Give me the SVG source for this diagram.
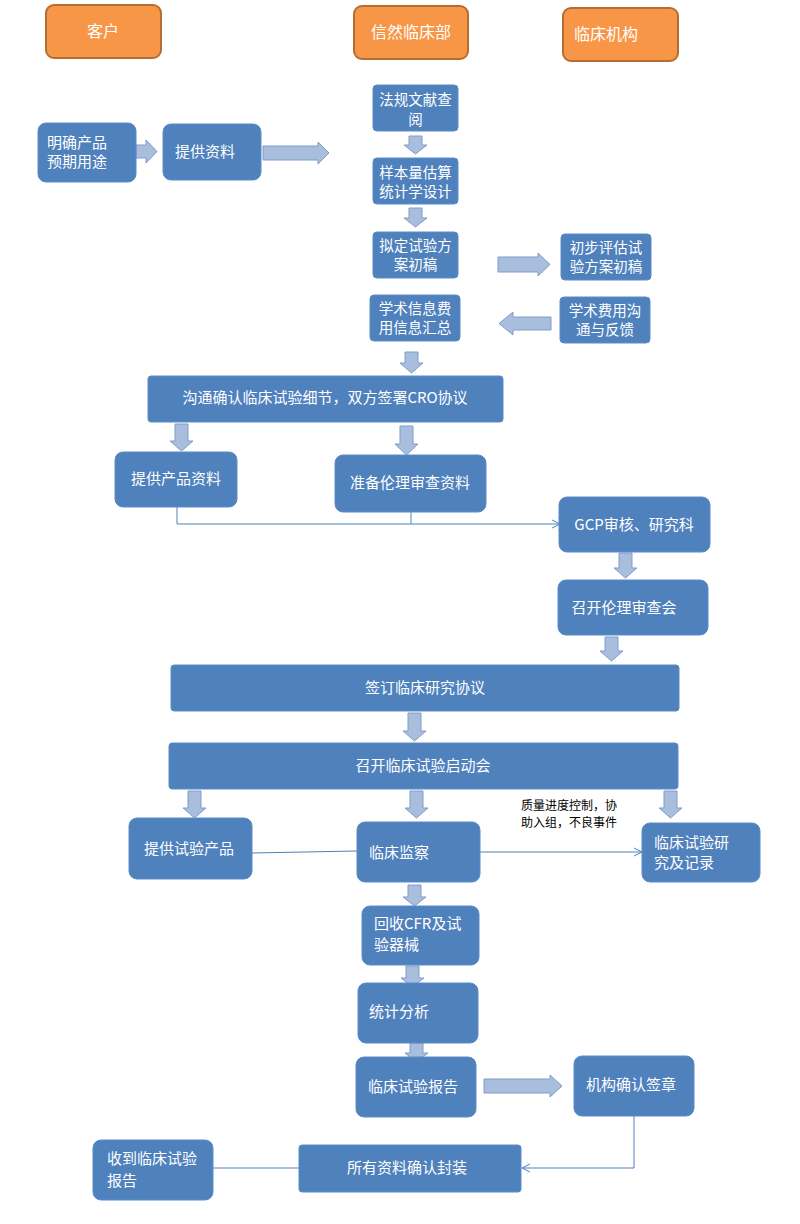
<svg xmlns="http://www.w3.org/2000/svg" width="800" height="1224" viewBox="0 0 800 1224">
<style>
.hdr{fill:#F79646;stroke:#B66D31;stroke-width:2}
.box{fill:#4F81BD;stroke:#5B8CC8;stroke-width:1}
.t{fill:#fff;font-family:"Noto Sans CJK SC","Microsoft YaHei",sans-serif;font-size:15px}
.s{font-size:14.5px}
.c{text-anchor:middle}
.ht{fill:#fff;font-family:"Noto Sans CJK SC",sans-serif;font-size:16px;text-anchor:middle}
.note{fill:#000;font-family:"Noto Sans CJK SC",sans-serif;font-size:12px}
.ba{fill:#A8BEDC;stroke:#7E9DCA;stroke-width:1}
.ln{fill:none;stroke:#4F81BD;stroke-width:1}
</style>
<defs>
<marker id="oa" viewBox="0 0 10 10" refX="9" refY="5" markerWidth="10" markerHeight="10" markerUnits="userSpaceOnUse" orient="auto">
<path d="M1,1 L9,5 L1,9" fill="none" stroke="#4F81BD" stroke-width="1"/>
</marker>
</defs>
<rect width="800" height="1224" fill="#fff"/>

<g id="h-kehu"><rect class="hdr" x="46" y="5" width="115" height="53" rx="8"/><text class="ht" x="103" y="37">客户</text></g>
<g id="h-xinran"><rect class="hdr" x="354" y="6" width="114" height="53" rx="8"/><text class="ht" x="411" y="38">信然临床部</text></g>
<g id="h-jigou"><rect class="hdr" x="563" y="8" width="115" height="53" rx="8"/><text class="ht" x="606" y="40">临床机构</text></g>

<g id="connectors">
<path class="ba" d="M136,145 H146 V140 L157,151.5 L146,163 V158 H136 Z"/>
<path class="ba" d="M263,146 H318 V142 L329,153 L318,164 V160 H263 Z"/>
<path class="ba" d="M409,136 H422 V145 H427 L415.5,154 L404,145 H409 Z"/>
<path class="ba" d="M409,208 H422 V218 H427 L415.5,227 L404,218 H409 Z"/>
<path class="ba" d="M498,257 H538 V253 L550,264.5 L538,276 V272 H498 Z"/>
<path class="ba" d="M551,317 H513 V312 L499,323.5 L513,335 V330 H551 Z"/>
<path class="ba" d="M405,352 H418 V363 H423 L411.5,373 L400,363 H405 Z"/>
<path class="ba" d="M175,424 H188 V441 H193 L181.5,451 L170,441 H175 Z"/>
<path class="ba" d="M400,426 H413 V444 H418 L406.5,455 L395,444 H400 Z"/>
<path class="ln" d="M177,507 V524 H560" marker-end="url(#oa)"/>
<path class="ln" d="M411,512 V524"/>
<path class="ba" d="M619,553 H632 V568 H637 L625.5,578 L614,568 H619 Z"/>
<path class="ba" d="M605,637 H618 V651 H623 L611.5,661 L600,651 H605 Z"/>
<path class="ba" d="M408,713 H421 V731 H426 L414.5,741 L403,731 H408 Z"/>
<path class="ba" d="M188,791 H201 V808 H206 L194.5,818 L183,808 H188 Z"/>
<path class="ba" d="M410,791 H423 V808 H428 L416.5,818 L405,808 H410 Z"/>
<path class="ba" d="M664,791 H677 V808 H682 L670.5,818 L659,808 H664 Z"/>
<path class="ln" d="M252,853 L357,851"/>
<path class="ln" d="M480,852 H642" marker-end="url(#oa)"/>
<path class="ba" d="M408,885 H421 V897 H426 L414.5,906 L403,897 H408 Z"/>
<path class="ba" d="M406,966 H419 V978 H424 L412.5,987 L401,978 H406 Z"/>
<path class="ba" d="M410,1043 H423 V1053 H428 L416.5,1062 L405,1053 H410 Z"/>
<path class="ba" d="M484,1079 H550 V1075 L562,1086 L550,1097 V1093 H484 Z"/>
<path class="ln" d="M634,1116 V1168 H522" marker-end="url(#oa)"/>
<path class="ln" d="M299,1168 H186" marker-end="url(#oa)"/>
</g>

<g id="n1"><rect class="box" x="38" y="123" width="98" height="59" rx="8"/><text class="t"><tspan x="47" y="148">明确产品</tspan><tspan x="47" y="167">预期用途</tspan></text></g>
<g id="n2"><rect class="box" x="163" y="124" width="98" height="56" rx="8"/><text class="t" x="175" y="157">提供资料</text></g>
<g id="n3"><rect class="box" x="373" y="85" width="85" height="46" rx="4"/><text class="t s c"><tspan x="415.5" y="105">法规文献查</tspan><tspan x="415.5" y="125">阅</tspan></text></g>
<g id="n4"><rect class="box" x="373" y="158" width="85" height="46" rx="4"/><text class="t s c"><tspan x="415.5" y="178">样本量估算</tspan><tspan x="415.5" y="197">统计学设计</tspan></text></g>
<g id="n5"><rect class="box" x="373" y="232" width="85" height="46" rx="4"/><text class="t s c"><tspan x="415.5" y="251">拟定试验方</tspan><tspan x="415.5" y="270">案初稿</tspan></text></g>
<g id="n6"><rect class="box" x="561" y="234" width="90" height="46" rx="4"/><text class="t s c"><tspan x="606" y="253">初步评估试</tspan><tspan x="606" y="272">验方案初稿</tspan></text></g>
<g id="n7"><rect class="box" x="370" y="295" width="90" height="46" rx="4"/><text class="t s c"><tspan x="415" y="314">学术信息费</tspan><tspan x="415" y="333">用信息汇总</tspan></text></g>
<g id="n8"><rect class="box" x="560" y="297" width="90" height="46" rx="4"/><text class="t s c"><tspan x="605" y="316">学术费用沟</tspan><tspan x="605" y="335">通与反馈</tspan></text></g>
<g id="n9"><rect class="box" x="148" y="376" width="355" height="46" rx="3"/><text class="t c" x="325" y="403">沟通确认临床试验细节，双方签署CRO协议</text></g>
<g id="n10"><rect class="box" x="115" y="452" width="122" height="55" rx="8"/><text class="t c" x="176" y="484">提供产品资料</text></g>
<g id="n11"><rect class="box" x="335" y="455" width="151" height="57" rx="8"/><text class="t c" x="410" y="488">准备伦理审查资料</text></g>
<g id="n12"><rect class="box" x="559" y="497" width="151" height="55" rx="8"/><text class="t c" x="634" y="530">GCP审核、研究科</text></g>
<g id="n13"><rect class="box" x="558" y="580" width="150" height="55" rx="8"/><text class="t c" x="624" y="613">召开伦理审查会</text></g>
<g id="n14"><rect class="box" x="171" y="665" width="508" height="46" rx="3"/><text class="t c" x="425" y="693">签订临床研究协议</text></g>
<g id="n15"><rect class="box" x="169" y="743" width="509" height="46" rx="3"/><text class="t c" x="423" y="771">召开临床试验启动会</text></g>
<text class="note"><tspan x="521" y="810">质量进度控制，协</tspan><tspan x="521" y="827">助入组，不良事件</tspan></text>
<g id="n16"><rect class="box" x="129" y="818" width="123" height="61" rx="8"/><text class="t c" x="189" y="854">提供试验产品</text></g>
<g id="n17"><rect class="box" x="357" y="822" width="123" height="60" rx="8"/><text class="t" x="369" y="858">临床监察</text></g>
<g id="n18"><rect class="box" x="642" y="823" width="118" height="59" rx="8"/><text class="t"><tspan x="654" y="848">临床试验研</tspan><tspan x="654" y="868">究及记录</tspan></text></g>
<g id="n19"><rect class="box" x="362" y="906" width="117" height="59" rx="8"/><text class="t"><tspan x="374" y="929">回收CFR及试</tspan><tspan x="374" y="950">验器械</tspan></text></g>
<g id="n20"><rect class="box" x="358" y="983" width="120" height="60" rx="8"/><text class="t" x="369" y="1017">统计分析</text></g>
<g id="n21"><rect class="box" x="356" y="1057" width="120" height="60" rx="8"/><text class="t" x="368" y="1092">临床试验报告</text></g>
<g id="n22"><rect class="box" x="574" y="1056" width="120" height="60" rx="8"/><text class="t" x="586" y="1090">机构确认签章</text></g>
<g id="n23"><rect class="box" x="299" y="1145" width="222" height="47" rx="3"/><text class="t" x="347" y="1173">所有资料确认封装</text></g>
<g id="n24"><rect class="box" x="93" y="1140" width="120" height="60" rx="8"/><text class="t"><tspan x="107" y="1164">收到临床试验</tspan><tspan x="107" y="1186">报告</tspan></text></g>
</svg>
